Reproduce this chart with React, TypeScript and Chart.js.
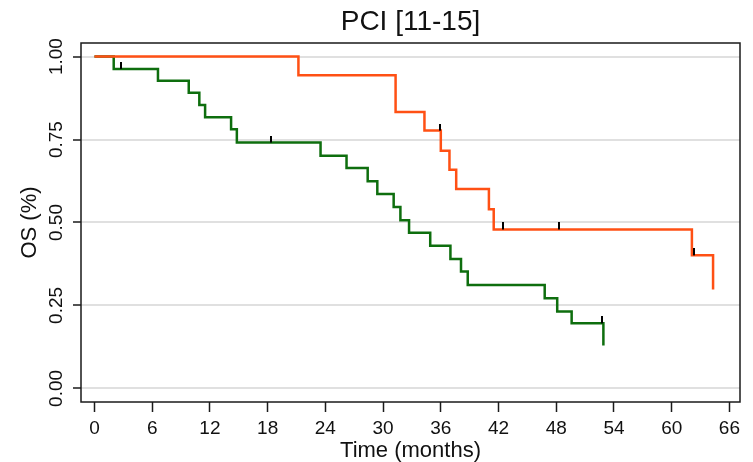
import React, { useEffect, useRef } from "react";
import { Chart, registerables } from "chart.js";

Chart.register(...registerables);

const chartTitle = "PCI [11-15]";
const xTitle = "Time (months)";
const yTitle = "OS (%)";

const xTickValues = [0, 6, 12, 18, 24, 30, 36, 42, 48, 54, 60, 66];
const yTickValues = [0, 0.25, 0.5, 0.75, 1];
const yTickLabels = ["0.00", "0.25", "0.50", "0.75", "1.00"];

// Green group (Kaplan-Meier steps)
const greenTimes = [0, 2.0, 6.6, 9.8, 10.9, 11.5, 14.2, 14.8, 23.5, 26.2, 28.4, 29.4, 31.1, 31.8, 32.7, 34.9, 37.0, 38.1, 38.8, 46.8, 48.1, 49.6, 52.9];
const greenSurv = [1, 0.963, 0.927, 0.891, 0.854, 0.817, 0.781, 0.741, 0.701, 0.664, 0.624, 0.586, 0.547, 0.507, 0.469, 0.430, 0.390, 0.352, 0.312, 0.272, 0.232, 0.196, 0.129];
const greenCensorTimes = [2.8, 18.3, 52.8];
const greenCensorSurv = [0.963, 0.741, 0.196];

// Orange group
const orangeTimes = [0, 21.2, 31.3, 34.3, 36.0, 36.9, 37.6, 41.0, 41.5, 62.1, 64.3];
const orangeSurv = [1, 0.944, 0.833, 0.777, 0.716, 0.659, 0.601, 0.540, 0.479, 0.401, 0.298];
const orangeCensorTimes = [35.9, 42.5, 48.3, 62.3];
const orangeCensorSurv = [0.777, 0.479, 0.479, 0.401];

const ORANGE = "#FF5014";
const GREEN = "#0E6E0E";
const TEXT = "#111111";
const FONT = '"Liberation Sans", Arial, sans-serif';

function makeCensorMark(): HTMLCanvasElement {
  const c = document.createElement("canvas");
  c.width = 2;
  c.height = 14;
  const g = c.getContext("2d")!;
  g.fillStyle = "#000000";
  g.fillRect(0, 0, 2, 7);
  return c;
}

const framePlugin = {
  id: "framePlugin",
  beforeDatasetsDraw(chart: any) {
    const { ctx, chartArea: a } = chart;
    ctx.save();
    ctx.strokeStyle = "#1a1a1a";
    ctx.lineWidth = 1.5;
    ctx.strokeRect(a.left, a.top, a.right - a.left, a.bottom - a.top);
    ctx.restore();
  },
  afterDraw(chart: any) {
    const { ctx, chartArea: a, scales } = chart;
    ctx.save();
    ctx.fillStyle = TEXT;
    ctx.font = `28px ${FONT}`;
    ctx.textAlign = "center";
    ctx.textBaseline = "alphabetic";
    ctx.fillText(chartTitle, (a.left + a.right) / 2, 29.5);

    const ys = scales.y;
    ctx.font = `19px ${FONT}`;
    ys.ticks.forEach((t: any, i: number) => {
      const py = ys.getPixelForValue(t.value);
      ctx.save();
      ctx.translate(a.left - 19.5, py);
      ctx.rotate(-Math.PI / 2);
      ctx.fillText(yTickLabels[i] ?? String(t.value), 0, 0);
      ctx.restore();
    });
    ctx.restore();
  },
};

export default function App() {
  const ref = useRef<HTMLCanvasElement | null>(null);

  useEffect(() => {
    if (!ref.current) return;
    const mark = makeCensorMark();
    const chart = new Chart(ref.current, {
      type: "line",
      data: {
        datasets: [
          {
            type: "scatter",
            label: "censored",
            data: [
              ...orangeCensorTimes.map((t, i) => ({ x: t, y: orangeCensorSurv[i] })),
              ...greenCensorTimes.map((t, i) => ({ x: t, y: greenCensorSurv[i] })),
            ],
            pointStyle: mark as any,
            showLine: false,
            order: 0,
          } as any,
          {
            label: "orange",
            data: orangeTimes.map((t, i) => ({ x: t, y: orangeSurv[i] })),
            borderColor: ORANGE,
            borderWidth: 2.5,
            stepped: "before",
            pointRadius: 0,
            fill: false,
            order: 1,
          },
          {
            label: "green",
            data: greenTimes.map((t, i) => ({ x: t, y: greenSurv[i] })),
            borderColor: GREEN,
            borderWidth: 2.5,
            stepped: "before",
            pointRadius: 0,
            fill: false,
            order: 2,
          },
        ],
      },
      options: {
        responsive: false,
        animation: false,
        events: [],
        layout: { padding: { left: 0, right: 13, top: 43, bottom: 0 } },
        plugins: {
          legend: { display: false },
          title: { display: false },
          tooltip: { enabled: false },
        },
        scales: {
          x: {
            type: "linear",
            min: -1.4,
            max: 67.1,
            afterBuildTicks: (s: any) => {
              s.ticks = xTickValues.map((v) => ({ value: v }));
            },
            afterFit: (s: any) => {
              s.height = 60;
            },
            border: { display: false },
            grid: {
              drawOnChartArea: false,
              drawTicks: true,
              tickLength: 10,
              tickColor: "#1a1a1a",
              tickWidth: 1.5,
            },
            ticks: {
              autoSkip: false,
              maxRotation: 0,
              padding: 5,
              color: TEXT,
              font: { family: FONT, size: 19 },
              callback: (v: any) => String(v),
            },
            title: {
              display: true,
              text: xTitle,
              color: TEXT,
              font: { family: FONT, size: 22, lineHeight: 1 },
              padding: { top: 0, bottom: 0 },
            },
          },
          y: {
            type: "linear",
            min: -0.041,
            max: 1.041,
            afterBuildTicks: (s: any) => {
              s.ticks = yTickValues.map((v) => ({ value: v }));
            },
            afterFit: (s: any) => {
              s.width = 81;
            },
            border: { display: false },
            grid: {
              color: "#e0e0e0",
              lineWidth: 2,
              drawTicks: true,
              tickLength: 8,
              tickColor: "#1a1a1a",
              tickWidth: 1.5,
            },
            ticks: {
              display: false,
            },
            title: {
              display: true,
              text: yTitle,
              color: TEXT,
              font: { family: FONT, size: 22, lineHeight: 1.2 },
              padding: { top: 17, bottom: 0 },
            },
          },
        },
      },
      plugins: [framePlugin],
    });
    return () => chart.destroy();
  }, []);

  return (
    <div style={{ position: "fixed", left: 0, top: 0, width: 753, height: 462, background: "#fff" }}>
      <canvas ref={ref} width={753} height={462} style={{ display: "block" }} />
    </div>
  );
}
